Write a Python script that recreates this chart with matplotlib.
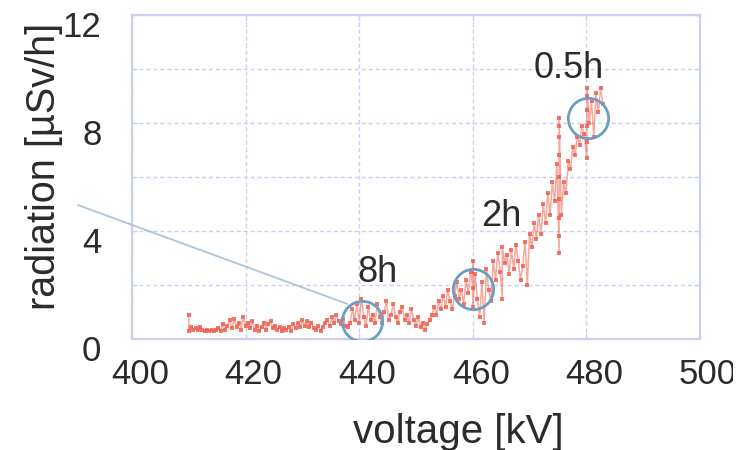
import matplotlib
matplotlib.use("Agg")
import matplotlib.pyplot as plt
from matplotlib.transforms import ScaledTranslation, Bbox, TransformedBbox

plt.rcParams['font.family'] = ['Liberation Sans', 'DejaVu Sans']

# measured radiation vs. applied voltage
voltage = [
    410.0, 410.0, 410.4, 410.8, 411.2, 411.6, 412.0, 412.4, 412.8, 413.2, 413.6,
    414.0, 414.4, 414.8, 415.2, 415.6, 416.0, 416.4, 416.8, 417.2, 417.6,
    418.0, 418.4, 418.8, 419.2, 419.6, 420.0, 420.4, 420.8, 421.2, 421.6,
    422.0, 422.4, 422.8, 423.2, 423.6, 424.0, 424.4, 424.8, 425.2, 425.6,
    426.0, 426.4, 426.8, 427.2, 427.6, 428.0, 428.4, 428.8, 429.2, 429.6,
    430.0, 430.4, 430.8, 431.2, 431.6, 432.0, 432.4, 432.8, 433.2, 433.6,
    434.0, 434.4, 434.8, 435.2, 435.6, 436.0, 436.4, 436.8, 437.2, 437.6,
    438.0, 438.4, 438.8, 439.2, 439.6, 440.0, 440.4, 440.8, 441.2, 441.6,
    442.0, 442.4, 442.8, 443.2, 443.6, 444.0, 444.4, 444.8, 445.2, 445.6,
    446.0, 446.4, 446.8, 447.2, 447.6, 448.0, 448.4, 448.8, 449.2, 449.6,
    450.0, 450.4, 450.8, 451.2, 451.6, 452.0, 452.4, 452.8, 453.2, 453.6,
    454.0, 454.4, 454.8, 455.2, 455.6, 456.0, 456.4, 456.8, 457.2, 457.6,
    458.0, 458.4, 458.8, 459.2, 459.6, 460.0, 460.0, 460.0, 460.4, 460.8,
    461.2, 461.6, 462.0, 462.4, 462.8, 463.2, 463.6, 464.0, 464.4, 464.8,
    465.2, 465.2, 465.6, 466.0, 466.4, 466.8, 467.2, 467.6, 468.0, 468.4,
    468.8, 469.2, 469.6, 470.0, 470.4, 470.8, 471.2, 471.6, 472.0, 472.4,
    472.8, 473.2, 473.6, 474.0, 474.4, 474.8,
    475.2, 475.2, 475.2, 475.2, 475.2, 475.2, 475.2, 475.2, 475.2,
    475.6, 476.0, 476.4, 476.8, 477.2, 477.6, 478.0, 478.4, 478.8, 479.2, 479.6,
    480.1, 480.1, 480.1, 480.1, 480.1, 480.1,
    480.5, 480.9, 481.3, 481.7, 482.1, 482.5, 482.9,
]
radiation = [
    0.9, 0.3, 0.45, 0.35, 0.4, 0.35, 0.45, 0.35, 0.3, 0.35, 0.3,
    0.35, 0.3, 0.32, 0.4, 0.3, 0.55, 0.35, 0.5, 0.7, 0.4,
    0.75, 0.45, 0.6, 0.35, 0.8, 0.5, 0.6, 0.4, 0.65, 0.35,
    0.5, 0.3, 0.45, 0.6, 0.35, 0.55, 0.65, 0.4, 0.5, 0.35,
    0.45, 0.3, 0.4, 0.35, 0.45, 0.3, 0.55, 0.4, 0.6, 0.45,
    0.7, 0.5, 0.65, 0.45, 0.6, 0.4, 0.35, 0.5, 0.3, 0.45,
    0.6, 0.7, 0.5, 0.8, 0.6, 0.9, 0.65, 0.55, 0.75, 0.5,
    0.45, 0.6, 1.1, 0.7, 1.3, 0.6, 1.5, 0.8, 0.5, 1.2,
    0.7, 0.9, 0.6, 1.3, 0.8, 0.6, 1.0, 1.4, 0.7, 0.9,
    1.3, 0.8, 0.6, 1.0, 1.2, 0.7, 0.9, 0.6, 1.1, 0.7,
    0.5, 0.8, 0.45, 0.6, 0.35, 0.55, 0.7, 0.9, 1.2, 0.9,
    1.4, 1.1, 1.6, 1.2, 1.8, 1.4, 1.1, 1.6, 2.1, 1.5,
    1.8, 1.3, 2.2, 1.7, 2.5, 1.9, 2.9, 1.2, 2.4, 1.5,
    0.8, 2.1, 0.6, 2.6, 1.8, 1.4, 2.9, 2.2, 3.2, 2.5,
    1.5, 3.4, 2.8, 3.1, 2.4, 3.3, 2.6, 3.5, 2.9, 2.2,
    2.7, 3.6, 2.0, 3.9, 3.4, 4.3, 3.7, 4.6, 3.9, 5.0,
    4.3, 5.4, 4.6, 5.8, 5.1, 6.5,
    3.2, 3.8, 4.5, 5.2, 6.0, 6.8, 7.5, 7.9, 8.2,
    4.6, 5.8, 5.4, 6.6, 6.3, 7.1, 6.8, 7.5, 7.2, 7.9, 7.6,
    6.7, 7.3, 7.9, 8.5, 9.0, 9.3,
    8.0, 8.8, 7.5, 9.1, 8.4, 9.3, 8.7,
]

# circled readings and their exposure-time labels
mark_v = [440.5, 460.0, 480.3]
mark_r = [0.65, 1.85, 8.2]
mark_labels = ['8h', '2h', '0.5h']
label_v = [443.3, 465.0, 476.9]
label_r = [2.45, 4.55, 10.0]

# leader line running off to the left of the plot
leader_v = [390.5, 437.9]
leader_r = [4.96, 1.30]

x_ticks = [400, 420, 440, 460, 480, 500]
y_ticks = [0, 4, 8, 12]
y_minor = [2, 6, 10]

frame = '#c9d0f2'
text_c = '#2b2b2b'
red = '#f0604f'

fig = plt.figure(figsize=(7.54, 4.5), dpi=100)
ax = fig.add_axes([132 / 754, 1 - 339 / 450, 568 / 754, 324 / 450])

ax.plot(voltage, radiation, color=red, lw=1.1, alpha=0.55, zorder=2)
ax.plot(voltage, radiation, ls='none', marker='s', markersize=2.6,
        markeredgewidth=0, color=red, alpha=0.85, zorder=3)

ax.plot(mark_v, mark_r, ls='none', marker='o', markersize=29,
        markerfacecolor='none', markeredgecolor='#6d9dbf',
        markeredgewidth=2.0, zorder=4)

ax.plot(leader_v, leader_r, color='#a9c5dc', lw=1.3, clip_on=False, zorder=4)

for lab, lv, lr in zip(mark_labels, label_v, label_r):
    ax.text(lv, lr, lab, ha='center', va='center', fontsize=26, color=text_c)

ax.set_xlim(400, 500)
ax.set_ylim(0, 12)
ax.set_xticks(x_ticks)
ax.set_yticks(y_ticks)
ax.set_yticks(y_minor, minor=True)

for s in ax.spines.values():
    s.set_color(frame)
    s.set_linewidth(1.6)

ax.grid(True, which='both', color=frame, linestyle=(0, (3, 2)), lw=1.0)
ax.set_axisbelow(True)
ax.tick_params(which='both', direction='in', length=4, color=frame,
               top=True, right=True, labelsize=25, labelcolor=text_c)
ax.tick_params(axis='x', pad=14)
ax.tick_params(axis='y', pad=22)

xshift = ScaledTranslation(8 / 100, 0, fig.dpi_scale_trans)
yshift = ScaledTranslation(0, -9 / 100, fig.dpi_scale_trans)
clip = TransformedBbox(Bbox([[0, 0], [733 / 754, 1]]), fig.transFigure)
for lbl in ax.get_xticklabels():
    lbl.set_transform(lbl.get_transform() + xshift)
    lbl.set_clip_box(clip)
    lbl.set_clip_on(True)
for lbl in ax.get_yticklabels():
    lbl.set_transform(lbl.get_transform() + yshift)

fig.text(458 / 754, 1 - 432 / 450, 'voltage [kV]', ha='center', va='center',
         fontsize=29, color=text_c)
fig.text(44 / 754, 1 - 166 / 450, 'radiation [µSv/h]', ha='center',
         va='center', rotation=90, fontsize=28.5, color=text_c)

fig.savefig('out.png', dpi=100, facecolor='white')
